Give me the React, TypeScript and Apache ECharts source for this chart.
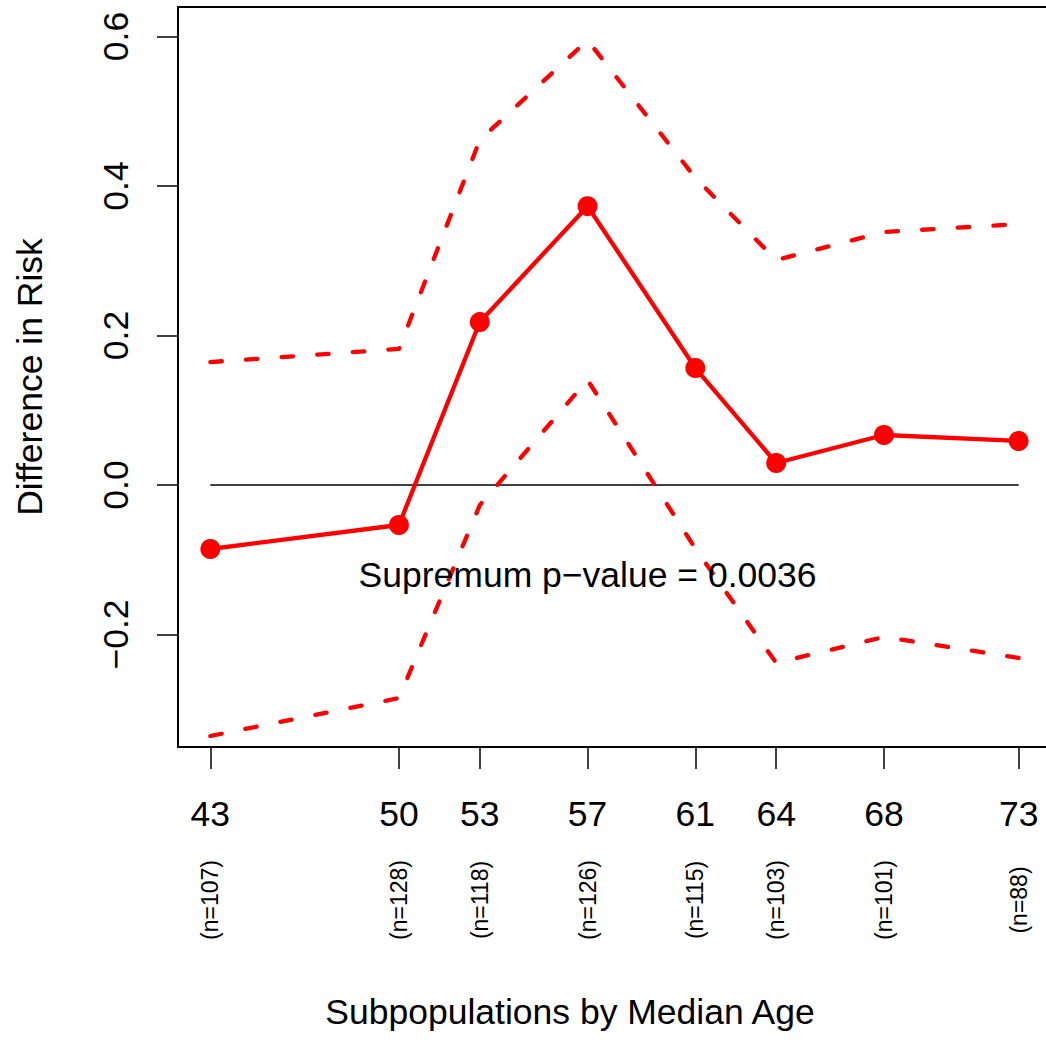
import React, { useEffect, useRef } from "react";
import * as echarts from "echarts";

const ages = [43, 50, 53, 57, 61, 64, 68, 73];
const sampleSizes = [107, 128, 118, 126, 115, 103, 101, 88];
const estimate = [-0.0856, -0.0535, 0.218, 0.373, 0.1565, 0.0294, 0.0669, 0.0589];
const upperBand = [0.1645, 0.182, 0.4615, 0.595, 0.411, 0.301, 0.3385, 0.349];
const lowerBand = [-0.3358, -0.285, -0.027, 0.1405, -0.085, -0.238, -0.2033, -0.2314];
const yTicks = [-0.2, 0, 0.2, 0.4, 0.6];
const yTickLabels = ["\u22120.2", "0.0", "0.2", "0.4", "0.6"];
const pValueText = "Supremum p\u2212value = 0.0036";
const pValueAnchor = [57, -0.12];
const xTitle = "Subpopulations by Median Age";
const yTitle = "Difference in Risk";

const FONT = "'Liberation Sans', Arial, Helvetica, sans-serif";
const RED = "#FF0000";

export default function App() {
  const ref = useRef<HTMLDivElement>(null);

  useEffect(() => {
    document.body.style.margin = "0";
    if (!ref.current) return;
    const chart = echarts.init(ref.current, null, { renderer: "svg" });

    const xMin = 41.8;
    const xMax = 74.2;

    const option: any = {
      animation: false,
      backgroundColor: "#ffffff",
      textStyle: { fontFamily: FONT },
      grid: {
        left: 178,
        top: 7,
        width: 873,
        height: 740,
        show: true,
        borderColor: "#000",
        borderWidth: 2,
        backgroundColor: "transparent",
        containLabel: false,
        outerBoundsMode: "none",
      },
      xAxis: [
        {
          type: "value",
          min: xMin,
          max: xMax,
          position: "bottom",
          axisLine: { show: false, onZero: false },
          splitLine: { show: false },
          axisTick: {
            show: true,
            customValues: ages,
            length: 22,
            lineStyle: { color: "#000", width: 1.5 },
          },
          axisLabel: {
            show: true,
            customValues: ages,
            margin: 67,
            fontSize: 35.5,
            fontFamily: FONT,
            color: "#000",
            align: "center",
            verticalAlign: "middle",
            formatter: (v: number) => String(v),
          },
        },
        {
          type: "value",
          min: xMin,
          max: xMax,
          position: "bottom",
          axisLine: { show: false, onZero: false },
          splitLine: { show: false },
          axisTick: { show: false },
          axisLabel: {
            show: true,
            customValues: ages,
            rotate: 90,
            margin: 153,
            fontSize: 23,
            fontFamily: FONT,
            color: "#000",
            align: "center",
            verticalAlign: "middle",
            formatter: (v: number) => {
              const i = ages.indexOf(v);
              return i >= 0 ? `(n=${sampleSizes[i]})` : "";
            },
          },
        },
      ],
      yAxis: {
        type: "value",
        min: -0.3505,
        max: 0.6395,
        axisLine: { show: false, onZero: false },
        splitLine: { show: false },
        axisTick: {
          show: true,
          customValues: yTicks,
          length: 21,
          lineStyle: { color: "#000", width: 1.5 },
        },
        axisLabel: {
          show: true,
          customValues: yTicks,
          rotate: 90,
          margin: 62,
          fontSize: 35.5,
          fontFamily: FONT,
          color: "#000",
          align: "center",
          verticalAlign: "middle",
          formatter: (v: number) => {
            const i = yTicks.findIndex((t) => Math.abs(t - v) < 1e-9);
            return i >= 0 ? yTickLabels[i] : "";
          },
        },
        name: yTitle,
        nameLocation: "middle",
        nameGap: 148,
        nameRotate: 90,
        nameMoveOverlap: false,
        nameTextStyle: {
          fontSize: 35.5,
          fontFamily: FONT,
          color: "#000",
          align: "center",
          verticalAlign: "middle",
        },
      },
      graphic: [
        {
          type: "text",
          x: 570,
          y: 1012,
          style: {
            text: xTitle,
            fontSize: 35.5,
            fontFamily: FONT,
            fill: "#000",
            align: "center",
            verticalAlign: "middle",
          },
        },
      ],
      series: [
        {
          type: "line",
          xAxisIndex: 0,
          data: [
            [ages[0], 0],
            [ages[ages.length - 1], 0],
          ],
          symbol: "none",
          lineStyle: { color: "#000", width: 1.5 },
          z: 1,
          silent: true,
        },
        {
          type: "line",
          xAxisIndex: 0,
          data: ages.map((a, i) => [a, upperBand[i]]),
          symbol: "none",
          lineStyle: { color: RED, width: 4.3, type: [11.5, 24.2], cap: "round", join: "round" },
          z: 2,
        },
        {
          type: "line",
          xAxisIndex: 0,
          data: ages.map((a, i) => [a, lowerBand[i]]),
          symbol: "none",
          lineStyle: { color: RED, width: 4.3, type: [11.5, 24.2], cap: "round", join: "round" },
          z: 2,
        },
        {
          type: "line",
          xAxisIndex: 0,
          data: ages.map((a, i) => [a, estimate[i]]),
          symbol: "circle",
          symbolSize: 20,
          itemStyle: { color: RED, opacity: 1 },
          lineStyle: { color: RED, width: 4.3, join: "round" },
          z: 3,
        },
        {
          type: "scatter",
          xAxisIndex: 0,
          data: [pValueAnchor],
          symbolSize: 0,
          itemStyle: { color: "transparent", opacity: 1 },
          label: {
            show: true,
            position: "inside",
            formatter: pValueText,
            fontSize: 35.5,
            fontFamily: FONT,
            color: "#000",
            opacity: 1,
          },
          z: 4,
          silent: true,
        },
      ],
    };

    chart.setOption(option);
    return () => chart.dispose();
  }, []);

  return <div ref={ref} style={{ width: 1046, height: 1047 }} />;
}
